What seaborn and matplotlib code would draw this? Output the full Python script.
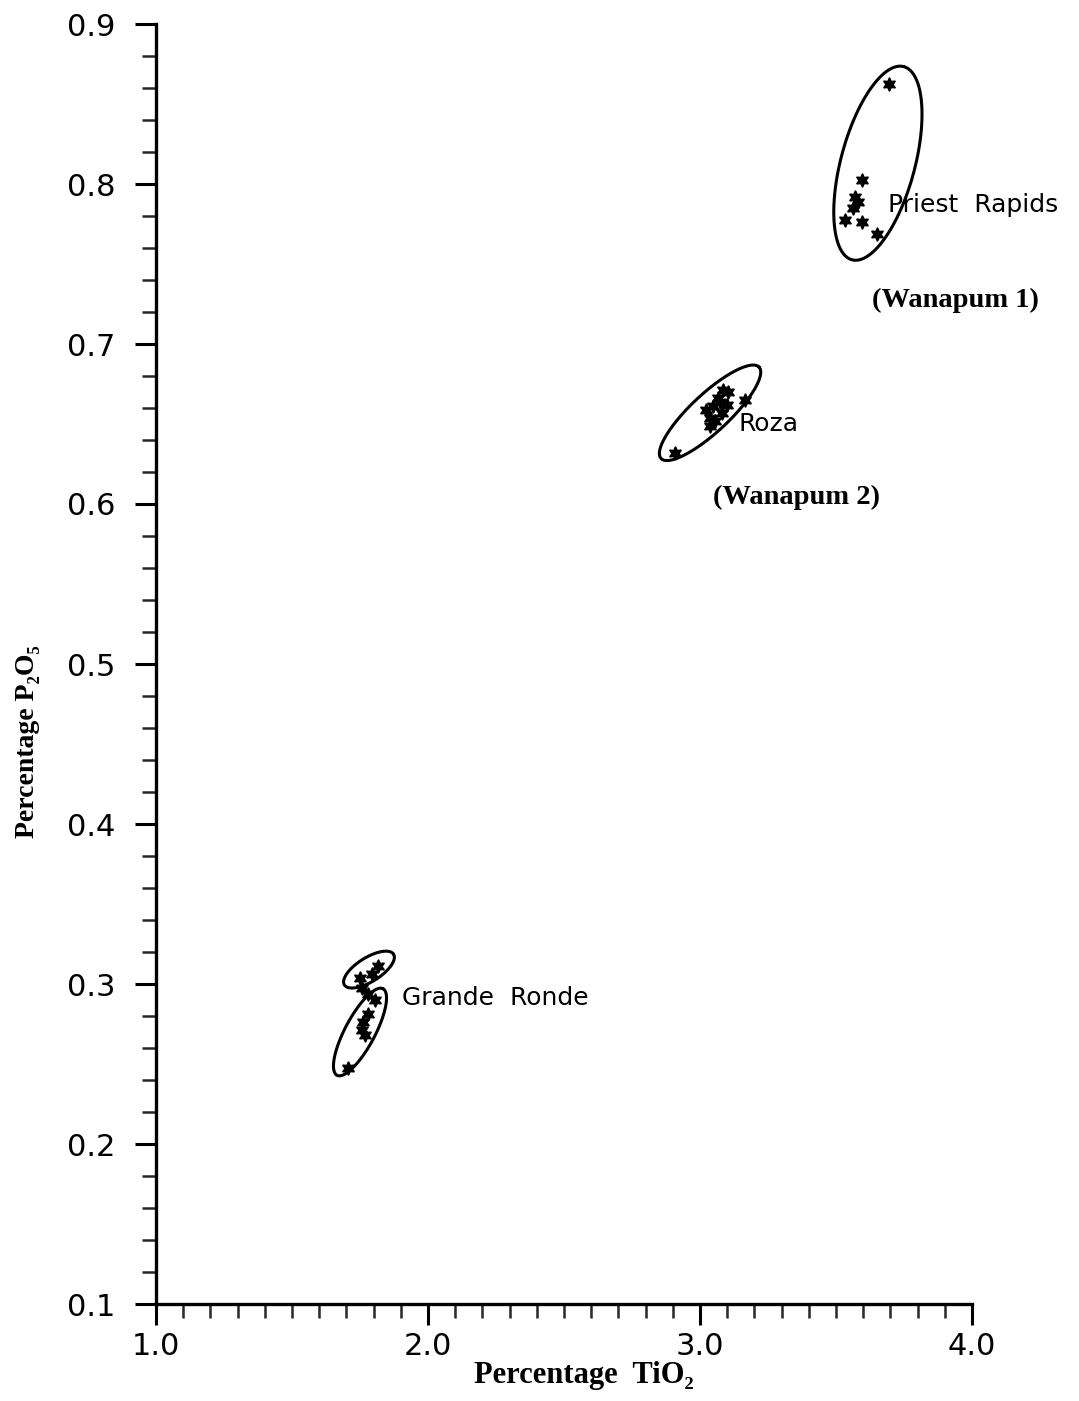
import numpy as np
import pandas as pd
import seaborn as sns
import matplotlib.pyplot as plt
from matplotlib.ticker import MultipleLocator, FormatStrFormatter

# Données (TiO2 %, P2O5 %)
priest_tio2 = [3.695, 3.596, 3.570, 3.581, 3.563, 3.533, 3.596, 3.651]
priest_p2o5 = [0.8625, 0.8025, 0.792, 0.789, 0.785, 0.7775, 0.776, 0.769]

roza_tio2 = [3.103, 3.085, 3.066, 3.048, 3.037, 3.081, 3.099, 3.037, 3.055, 3.074, 3.022, 3.165, 2.908]
roza_p2o5 = [0.670, 0.671, 0.666, 0.661, 0.654, 0.657, 0.662, 0.649, 0.652, 0.664, 0.659, 0.665, 0.632]

grande_tio2 = [1.750, 1.794, 1.816, 1.757, 1.779, 1.805, 1.779, 1.761, 1.757, 1.768, 1.706]
grande_p2o5 = [0.304, 0.306, 0.311, 0.2975, 0.294, 0.290, 0.281, 0.276, 0.271, 0.268, 0.2475]

# Enveloppes dessinées à la main: centre (données), demi-axes (pixels), angle (degrés)
envelopes = {
    'Priest Rapids': (3.654, 0.813, 100, 37, 75),
    'Roza': (3.037, 0.657, 67, 19, 43),
    'Grande Ronde haut': (1.783, 0.309, 29, 12, 32),
    'Grande Ronde bas': (1.750, 0.270, 49, 15, 62),
}

labels = ['Priest  Rapids', '(Wanapum 1)', 'Roza', '(Wanapum 2)', 'Grande  Ronde']
label_x = [3.691, 3.632, 3.140, 3.048, 1.904]
label_y = [0.787, 0.7275, 0.650, 0.604, 0.291]
label_serif = [False, True, False, True, False]

df = pd.concat([
    pd.DataFrame({'TiO2': priest_tio2, 'P2O5': priest_p2o5, 'groupe': 'Priest Rapids'}),
    pd.DataFrame({'TiO2': roza_tio2, 'P2O5': roza_p2o5, 'groupe': 'Roza'}),
    pd.DataFrame({'TiO2': grande_tio2, 'P2O5': grande_p2o5, 'groupe': 'Grande Ronde'}),
])

sns.set_style('ticks')
plt.rcParams['font.family'] = ['DejaVu Sans']
plt.rcParams['text.color'] = 'black'

fig = plt.figure(figsize=(10.79, 14.01), dpi=100)
ax = fig.add_axes([156 / 1079, 1 - 1304 / 1401, (972 - 156) / 1079, (1304 - 24) / 1401])

sns.scatterplot(data=df, x='TiO2', y='P2O5', color='black', marker=(6, 1, 0),
                s=80, linewidth=1.4, edgecolor='black', legend=False, ax=ax)

ax.set_xlim(1.0, 4.0)
ax.set_ylim(0.1, 0.9)

# Ellipses en pixels converties en coordonnées des données
ppx = (972 - 156) / 3.0
ppy = (1304 - 24) / 0.8
t = np.linspace(0, 2 * np.pi, 200)
for name, (cx, cy, a, b, ang) in envelopes.items():
    th = np.deg2rad(ang)
    u = a * np.cos(t) * np.cos(th) - b * np.sin(t) * np.sin(th)
    v = a * np.cos(t) * np.sin(th) + b * np.sin(t) * np.cos(th)
    ax.plot(cx + u / ppx, cy + v / ppy, color='black', lw=2.2, clip_on=False)

for txt, x, y, serif in zip(labels, label_x, label_y, label_serif):
    if serif:
        ax.text(x, y, txt, fontsize=20.5, fontweight='bold', va='center', ha='left',
                family=['Liberation Serif', 'DejaVu Serif'])
    else:
        ax.text(x, y, txt, fontsize=18, va='center', ha='left')

ax.xaxis.set_major_locator(MultipleLocator(1.0))
ax.xaxis.set_minor_locator(MultipleLocator(0.1))
ax.yaxis.set_major_locator(MultipleLocator(0.1))
ax.yaxis.set_minor_locator(MultipleLocator(0.02))
ax.xaxis.set_major_formatter(FormatStrFormatter('%.1f'))
ax.yaxis.set_major_formatter(FormatStrFormatter('%.1f'))

ax.tick_params(axis='both', which='major', direction='out', width=2.2, labelsize=22,
               color='black', labelcolor='black')
ax.tick_params(axis='x', which='major', length=15, pad=5)
ax.tick_params(axis='y', which='major', length=15, pad=14)
ax.tick_params(axis='x', which='minor', direction='out', length=10, width=1.8)
ax.tick_params(axis='y', which='minor', direction='out', length=10, width=1.8)

sns.despine(ax=ax)
for side in ['left', 'bottom']:
    ax.spines[side].set_linewidth(2.4)
    ax.spines[side].set_color('black')

ax.set_xlabel('Percentage  TiO₂', fontsize=22, fontweight='bold', color='black',
              family=['Liberation Serif', 'DejaVu Serif'])
ax.set_ylabel('Percentage P₂O₅', fontsize=20, fontweight='bold', color='black',
              family=['Liberation Serif', 'DejaVu Serif'])
ax.xaxis.set_label_coords(0.5245, -0.0555)
ax.yaxis.set_label_coords(-0.157, 0.439)
ax.xaxis.label.set_va('center')
ax.yaxis.label.set_va('center')

plt.savefig('out.png', dpi=100)
plt.close()
